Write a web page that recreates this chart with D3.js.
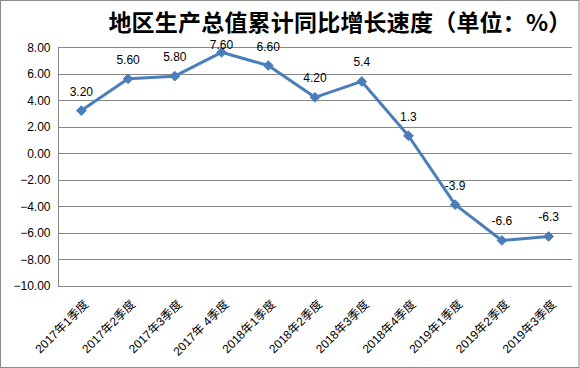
<!DOCTYPE html>
<html>
<head>
<meta charset="utf-8">
<script src="https://cdn.jsdelivr.net/npm/d3@7"></script>
<style>
  html, body { margin: 0; padding: 0; background: #fff; }
  svg { display: block; }
</style>
</head>
<body>
<div id="chart"></div>
<script>
const title = "地区生产总值累计同比增长速度（单位：%）";
const categories = ["2017年1季度","2017年2季度","2017年3季度","2017年 4季度","2018年1季度","2018年2季度","2018年3季度","2018年4季度","2019年1季度","2019年2季度","2019年3季度"];
const values = [3.2, 5.6, 5.8, 7.6, 6.6, 4.2, 5.4, 1.3, -3.9, -6.6, -6.3];
const valueLabels = ["3.20","5.60","5.80","7.60","6.60","4.20","5.4","1.3","-3.9","-6.6","-6.3"];
const yTicks = [8, 6, 4, 2, 0, -2, -4, -6, -8, -10];

const W = 580, H = 368;
const margin = { left: 58, right: 8, top: 47, bottom: 82 };

const svg = d3.select("#chart").append("svg").attr("width", W).attr("height", H);

// outer border
svg.append("rect").attr("x", 0.5).attr("y", 0.5).attr("width", W - 1.5).attr("height", H - 1)
  .attr("fill", "#fff").attr("stroke", "#8c8c8c").attr("stroke-width", 1);

const x = d3.scaleBand().domain(categories).range([margin.left, W - margin.right]);
const y = d3.scaleLinear().domain([-10, 8]).range([H - margin.bottom - 0.5, margin.top]);

// title
svg.append("text").attr("x", 340).attr("y", 31).attr("text-anchor", "middle")
  .attr("font-family", "'Noto Sans CJK SC', sans-serif").attr("font-weight", "bold")
  .attr("font-size", 23).attr("fill", "#000").attr("letter-spacing", 0.2).text(title);

// gridlines
svg.append("g").selectAll("line").data(yTicks).join("line")
  .attr("x1", margin.left).attr("x2", W - margin.right)
  .attr("y1", d => Math.round(y(d)) + 0.5).attr("y2", d => Math.round(y(d)) + 0.5)
  .attr("stroke", "#878787").attr("stroke-width", 1);

// y axis
const yAxis = d3.axisLeft(y).tickValues(yTicks).tickFormat(d3.format(".2f")).tickSize(0).tickPadding(8);
const gy = svg.append("g").attr("transform", `translate(${margin.left + 0.5},0.5)`).call(yAxis);
gy.select(".domain").attr("stroke", "#878787").attr("d", `M0,${Math.round(y(8))}V${Math.round(y(-10))}`);
gy.selectAll("text").attr("font-family", "'Liberation Sans', Arial, sans-serif").attr("font-size", 12).attr("fill", "#000");

// x axis labels
const xAxis = d3.axisBottom(x).tickSize(0).tickPadding(0);
const gx = svg.append("g").attr("transform", `translate(0,${H - margin.bottom})`).call(xAxis);
gx.select(".domain").remove();
gx.selectAll("text")
  .attr("font-family", "'Liberation Sans', 'Noto Sans CJK SC', sans-serif").attr("font-size", 12).attr("fill", "#000")
  .attr("text-anchor", "end").attr("dy", null).attr("y", 0)
  .attr("transform", "translate(8,19) rotate(-45)");

// line
const cx = d => x(d) + x.bandwidth() / 2;
const line = d3.line().x((d, i) => cx(categories[i])).y(d => y(d));
svg.append("path").datum(values).attr("d", line).attr("fill", "none")
  .attr("stroke", "#4a7ebb").attr("stroke-width", 3).attr("stroke-linejoin", "round");

// markers
svg.append("g").selectAll("path").data(values).join("path")
  .attr("d", d3.symbol().type(d3.symbolDiamond2).size(60))
  .attr("transform", (d, i) => `translate(${cx(categories[i])},${y(d)})`)
  .attr("fill", "#4a7ebb").attr("stroke", "#4a7ebb").attr("stroke-width", 1);

// data labels
svg.append("g").selectAll("text").data(values).join("text")
  .attr("x", (d, i) => cx(categories[i]))
  .attr("y", d => Math.max(y(d) - 15, margin.top + 2))
  .attr("text-anchor", "middle")
  .attr("font-family", "'Liberation Sans', Arial, sans-serif").attr("font-size", 12).attr("fill", "#000")
  .text((d, i) => valueLabels[i]);
</script>
</body>
</html>
